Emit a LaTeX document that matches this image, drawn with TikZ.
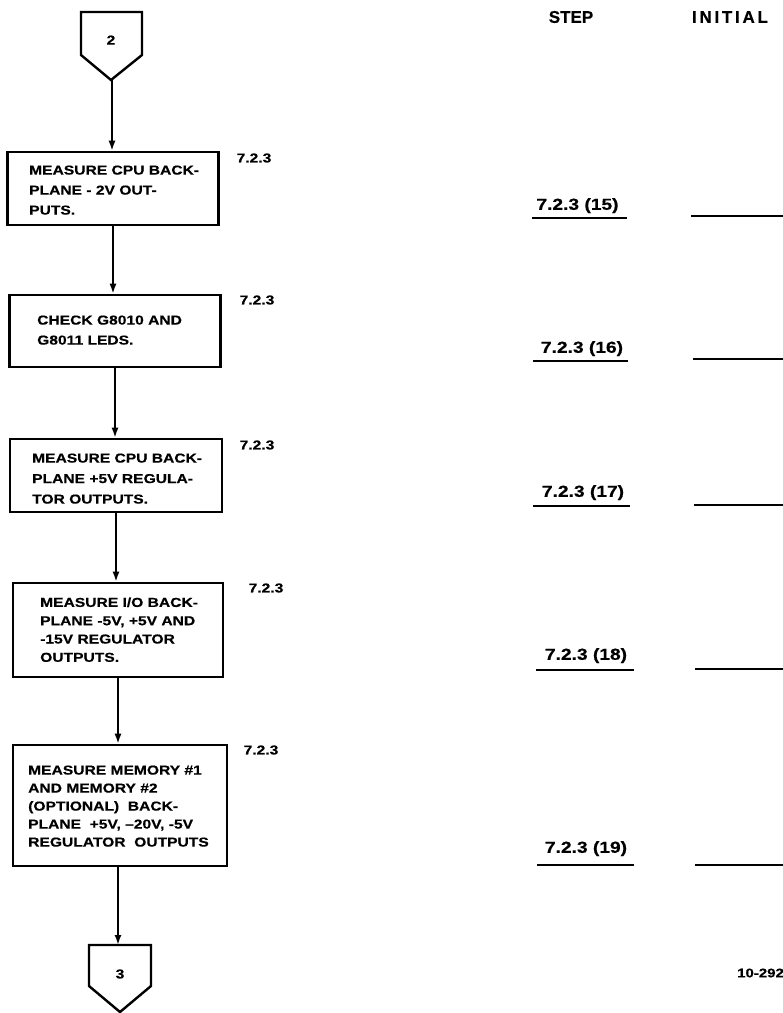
\documentclass[tikz,border=0pt]{standalone}
\usepackage{fontspec}
\setmainfont{Liberation Sans}[FakeStretch=1.2, BoldFeatures={FakeBold=0.5}]
\newfontfamily\headfont{Liberation Sans}[BoldFeatures={FakeBold=0.5}]
\usetikzlibrary{arrows.meta}
\begin{document}
\begin{tikzpicture}[x=1pt,y=-1pt,
  box/.style={draw, line width=2.6pt, inner sep=0pt},
  txt/.style={anchor=north west, inner sep=0pt, align=left},
  ref/.style={inner sep=0pt, font=\bfseries\fontsize{13}{15}\selectfont},
  steplbl/.style={anchor=base, inner sep=0pt, font=\bfseries\fontsize{16}{18}\selectfont},
  head/.style={inner sep=0pt, font=\headfont\bfseries\fontsize{17}{19}\selectfont},
  offpage/.style={line width=2.4pt, line join=miter},
  flow/.style={line width=1.8pt, -{Latex[length=10pt,width=7pt]}},
  rule/.style={line width=2.8pt},
  num/.style={inner sep=0pt, font=\bfseries\fontsize{13}{15}\selectfont}]
\useasboundingbox (0,0) rectangle (783,1013);

% off-page connector 2
\draw[offpage] (81,12) -- (142,12) -- (142,55) -- (111,80) -- (81,55) -- cycle;
\node[num] (n2) at (111,40) {2};
\coordinate (c2tip) at (112,80);

% process boxes
\node[box, minimum width=211pt, minimum height=73pt] (b1) at (113,188.5) {};
\node[txt, font=\bfseries\fontsize{13}{20}\selectfont] (t1) at (29,165.3)
  {MEASURE CPU BACK-\\PLANE - 2V OUT-\\PUTS.};
\node[ref] (r1) at (254,158) {7.2.3};

\node[box, minimum width=211pt, minimum height=72pt] (b2) at (115,331) {};
\node[txt, font=\bfseries\fontsize{13}{20}\selectfont] (t2) at (37,315.3)
  {CHECK G8010 AND\\G8011 LEDS.};
\node[ref] (r2) at (257,300) {7.2.3};

\node[box, minimum width=212pt, minimum height=73pt] (b3) at (116,475.5) {};
\node[txt, font=\bfseries\fontsize{13}{20.5}\selectfont] (t3) at (32,453.3)
  {MEASURE CPU BACK-\\PLANE +5V REGULA-\\TOR OUTPUTS.};
\node[ref] (r3) at (257,445) {7.2.3};

\node[box, minimum width=210pt, minimum height=94pt] (b4) at (118,630) {};
\node[txt, font=\bfseries\fontsize{13}{18.3}\selectfont] (t4) at (40,597.3)
  {MEASURE I/O BACK-\\PLANE -5V, +5V AND\\-15V REGULATOR\\OUTPUTS.};
\node[ref] (r4) at (266,588) {7.2.3};

\node[box, minimum width=214pt, minimum height=121pt] (b5) at (120,805.5) {};
\node[txt, font=\bfseries\fontsize{13}{18}\selectfont] (t5) at (28,765.3)
  {MEASURE MEMORY \#1\\AND MEMORY \#2\\(OPTIONAL)\ \ BACK-\\PLANE\ \ +5V, --20V, -5V\\REGULATOR\ \ OUTPUTS};
\node[ref] (r5) at (261,750) {7.2.3};

% off-page connector 3
\draw[offpage] (89,945) -- (151,945) -- (151,986) -- (120,1012) -- (89,986) -- cycle;
\node[num] (n3) at (120,974) {3};
\coordinate (c3in) at (118,945);

% flow lines
\draw[flow] (c2tip) -- (c2tip |- b1.north);
\draw[flow] (b1.south) -- (b1.south |- b2.north);
\draw[flow] (b2.south) -- (b2.south |- b3.north);
\draw[flow] (b3.south) -- (b3.south |- b4.north);
\draw[flow] (b4.south) -- (b4.south |- b5.north);
\draw[flow] (c3in |- b5.south) -- (c3in);

% sign-off columns
\node[head] (hs) at (571,17) {STEP};
\node[head] (hi) at (730,17) {\addfontfeature{LetterSpace=16}INITIAL};

\node[steplbl] (s15) at (577.5,209.8) {7.2.3 (15)};
\draw[rule] (532,218) -- (627,218);
\draw[rule] (691,216) -- (783,216);

\node[steplbl] (s16) at (582,352.8) {7.2.3 (16)};
\draw[rule] (533,361) -- (628,361);
\draw[rule] (693,359) -- (783,359);

\node[steplbl] (s17) at (583,496.8) {7.2.3 (17)};
\draw[rule] (533,506) -- (630,506);
\draw[rule] (694,505) -- (783,505);

\node[steplbl] (s18) at (586,659.8) {7.2.3 (18)};
\draw[rule] (536,670) -- (634,670);
\draw[rule] (695,669) -- (783,669);

\node[steplbl] (s19) at (586,852.8) {7.2.3 (19)};
\draw[rule] (537,865) -- (634,865);
\draw[rule] (695,865) -- (783,865);

\node[ref, anchor=west, font=\bfseries\fontsize{12.5}{14}\selectfont] (fig) at (737,973) {10-292};
\end{tikzpicture}
\end{document}
